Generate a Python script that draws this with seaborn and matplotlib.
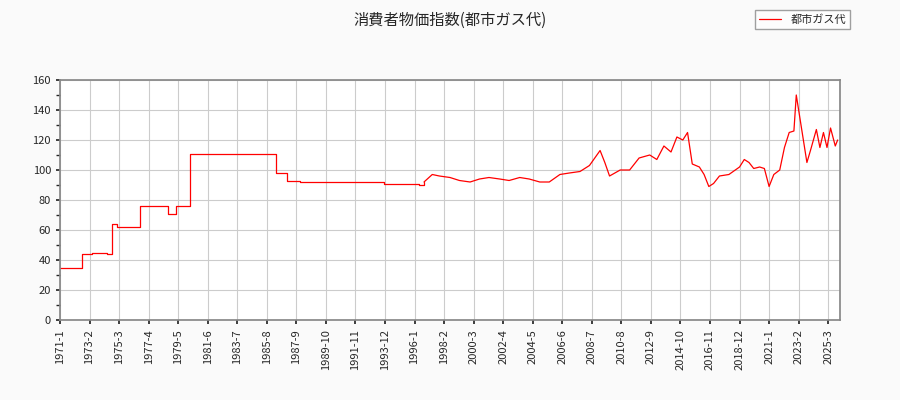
import matplotlib
matplotlib.use("Agg")
import matplotlib.pyplot as plt
import seaborn as sns
from matplotlib.ticker import MultipleLocator

# month index since 1971-1 and index value
# early era: step changes
step_months = [0, 19, 27, 40, 44, 48, 68, 91, 98, 110, 183, 192, 203, 274, 298, 304, 308]
step_values = [35, 44, 45, 44, 64, 62, 76, 71, 76, 111, 98, 93, 92, 91, 90.5, 90, 92]
# later era: frequent small changes
line_months = [308, 315, 321, 330, 338, 347, 355, 363, 372, 380, 389, 397, 406, 414,
               423, 431, 440, 448, 457, 461, 465, 474, 482, 490, 499, 505, 511, 517,
               522, 527, 531, 535, 541, 545, 549, 553, 558, 566, 575, 579, 583, 587,
               592, 596, 600, 604, 609, 613, 617, 621, 623, 628, 632, 635, 640, 643,
               646, 649, 652, 656, 658]
line_values = [92, 97, 96, 95, 93, 92, 94, 95, 94, 93, 95, 94, 92, 92,
               97, 98, 99, 103, 113, 105, 96, 100, 100, 108, 110, 107, 116, 112,
               122, 120, 125, 104, 102, 97, 89, 91, 96, 97, 102, 107, 105, 101,
               102, 101, 89, 97, 100, 115, 125, 126, 150, 125, 105, 113, 127, 115,
               125, 115, 128, 116, 120]

tick_idx = list(range(0, 651, 25))
tick_labels = [f"{1971 + i // 12}-{i % 12 + 1}" for i in tick_idx]

sns.set_theme(style="white")
plt.rcParams['font.family'] = ['Noto Sans CJK JP', 'DejaVu Sans']

fig = plt.figure(figsize=(9, 4), dpi=100, facecolor="#fafafa")
ax = fig.add_axes([60 / 900, 80 / 400, 780 / 900, 240 / 400])
ax.set_facecolor("white")
sns.lineplot(x=step_months, y=step_values, ax=ax, color="red", linewidth=0.9,
             drawstyle="steps-post", label="都市ガス代")
sns.lineplot(x=line_months, y=line_values, ax=ax, color="red", linewidth=0.9)

ax.set_xlim(0, 660)
ax.set_ylim(0, 160)
ax.set_xticks(tick_idx)
ax.set_xticklabels(tick_labels, rotation=90, fontsize=8)
ax.yaxis.set_major_locator(MultipleLocator(20))
ax.yaxis.set_minor_locator(MultipleLocator(10))
ax.tick_params(axis="y", labelsize=8, which="both", left=True, length=3)
ax.tick_params(axis="x", bottom=True, length=3)
ax.grid(True, color="#cccccc", linewidth=0.8)
for s in ax.spines.values():
    s.set_color("#888888")
ax.set_xlabel("")
ax.set_ylabel("")

fig.suptitle("消費者物価指数(都市ガス代)", y=0.97, fontsize=11)
ax.legend(loc="upper right", bbox_to_anchor=(856 / 900, 396 / 400),
          bbox_transform=fig.transFigure,
          fontsize=8, frameon=True, fancybox=False, edgecolor="#888888")

fig.savefig("out.png", facecolor=fig.get_facecolor())
